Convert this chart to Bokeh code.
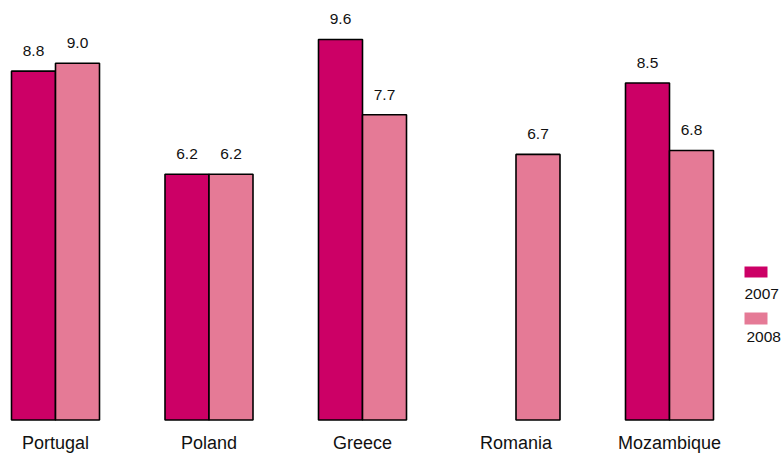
from bokeh.plotting import figure
from bokeh.models import Range1d, ColumnDataSource
from bokeh.core.properties import value
from bokeh.embed import file_html
from bokeh.resources import INLINE

categories = ["Portugal", "Poland", "Greece", "Romania", "Mozambique"]
values_2007 = [8.8, 6.2, 9.6, None, 8.5]
values_2008 = [9.0, 6.2, 7.7, 6.7, 6.8]
series_names = ["2007", "2008"]
colors = ["#CC0066", "#E57A96"]

W, H = 782, 454
# pixel geometry
cat_px0, cat_step = 55.0, 153.5
base_px, unit_px = 419.5, 39.64

p = figure(width=W, height=H, output_backend="svg", toolbar_location=None,
           x_range=Range1d(-cat_px0 / cat_step, (W - cat_px0) / cat_step),
           y_range=Range1d((base_px - H) / unit_px, base_px / unit_px),
           min_border=0, min_border_left=0, min_border_right=0,
           min_border_top=0, min_border_bottom=0)
p.axis.visible = False
p.xgrid.visible = False
p.ygrid.visible = False
p.outline_line_color = None
p.background_fill_color = "white"
p.border_fill_color = "white"

def px_x(x):
    return (x - cat_px0) / cat_step

def px_y(y):
    return (base_px - y) / unit_px

bar_w = 44.0 / cat_step
font = value("Liberation Sans")

for s, (vals, col) in enumerate(zip([values_2007, values_2008], colors)):
    off = (s - 0.5) * bar_w
    xs, tops, labels = [], [], []
    for i, v in enumerate(vals):
        if v is None:
            continue
        xs.append(i + off)
        tops.append(v)
        labels.append(f"{v:.1f}")
    src = ColumnDataSource(dict(x=xs, top=tops, label=labels))
    p.vbar(x="x", top="top", bottom=0, width=bar_w, source=src,
           fill_color=col, line_color="black", line_width=1.6)
    p.text(x="x", y="top", text="label", source=src, text_align="center",
           text_baseline="alphabetic", y_offset=-20, text_font=font,
           text_font_size="15.5px", text_color="#111111")

cat_src = ColumnDataSource(dict(x=list(range(len(categories))),
                                y=[0] * len(categories), t=categories))
p.text(x="x", y="y", text="t", source=cat_src, text_align="center",
       text_baseline="alphabetic", y_offset=23, text_font=font,
       text_font_size="18px", text_color="#111111")

# legend (square above its label)
leg_boxes = [(744, 767, 266, 277), (744, 767, 312, 324)]
leg_text = [(744, 293), (746, 336)]
for (l, r, t, b), (tx, ty), name, col in zip(leg_boxes, leg_text, series_names, colors):
    p.quad(left=[px_x(l)], right=[px_x(r)], top=[px_y(t)], bottom=[px_y(b)],
           fill_color=col, line_color=None)
    p.text(x=[px_x(tx)], y=[px_y(ty)], text=[name], text_align="left",
           text_baseline="middle", text_font=font, text_font_size="15.5px",
           text_color="#111111")

open("out.html", "w").write(file_html(p, INLINE))
